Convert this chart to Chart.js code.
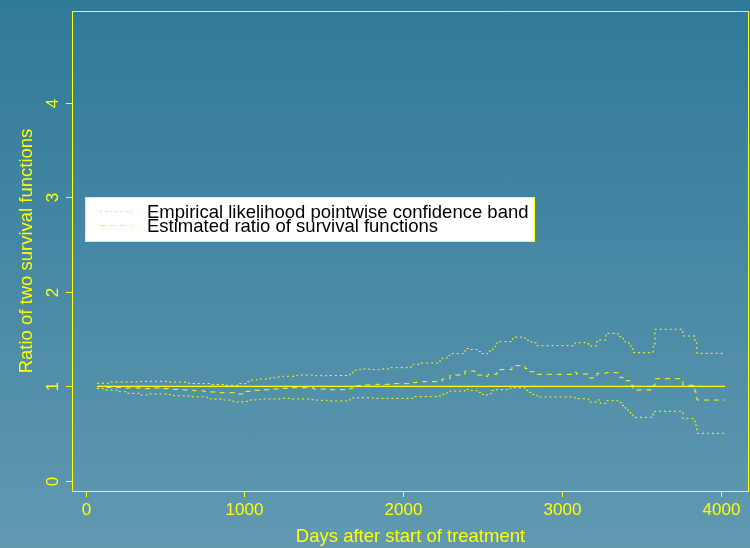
<!DOCTYPE html>
<html>
<head>
<meta charset="utf-8">
<script src="https://cdn.jsdelivr.net/npm/chart.js@4.4.1/dist/chart.umd.min.js"></script>
<style>
  html, body { margin: 0; padding: 0; }
  body {
    width: 750px; height: 548px; overflow: hidden;
    background: linear-gradient(to bottom, #2f7999 0%, #6199b1 100%);
  }
  canvas { display: block; }
</style>
</head>
<body>
<canvas id="c" width="750" height="548"></canvas>
<script>
// Tick positions
const xTicks = [0, 1000, 2000, 3000, 4000];
const yTicks = [0, 1, 2, 3, 4];

// Upper limit of the empirical likelihood pointwise band (step function)
const upperDays  = [72, 154, 324, 530, 650, 790, 870, 970, 1010, 1040, 1079, 1161, 1205, 1243, 1331, 1435, 1520, 1664, 1683, 1728, 1790, 1853, 1916, 2042, 2061, 2105, 2218, 2244, 2275, 2294, 2388, 2401, 2420, 2464, 2495, 2533, 2558, 2577, 2590, 2684, 2690, 2766, 2785, 2810, 2842, 3081, 3165, 3219, 3276, 3352, 3383, 3395, 3420, 3433, 3446, 3572, 3584, 3760, 3836, 3848, 4025];
const upperRatio = [1.033, 1.047, 1.054, 1.045, 1.03, 1.02, 1.012, 1.03, 1.05, 1.066, 1.078, 1.092, 1.10, 1.107, 1.12, 1.113, 1.115, 1.134, 1.17, 1.184, 1.177, 1.184, 1.198, 1.205, 1.234, 1.247, 1.268, 1.297, 1.325, 1.346, 1.38, 1.40, 1.39, 1.37, 1.346, 1.374, 1.395, 1.424, 1.473, 1.50, 1.52, 1.50, 1.473, 1.46, 1.43, 1.462, 1.427, 1.49, 1.561, 1.525, 1.50, 1.47, 1.435, 1.40, 1.356, 1.42, 1.604, 1.533, 1.46, 1.35, 1.35];

// Lower limit of the band
const lowerDays  = [72, 113, 198, 261, 343, 393, 513, 551, 658, 765, 784, 866, 929, 991, 1035, 1098, 1224, 1287, 1413, 1456, 1520, 1664, 1683, 1809, 2061, 2212, 2244, 2275, 2294, 2388, 2407, 2464, 2495, 2514, 2533, 2558, 2577, 2653, 2684, 2766, 2785, 2810, 2842, 3081, 3165, 3219, 3240, 3276, 3352, 3375, 3395, 3415, 3430, 3446, 3572, 3584, 3760, 3836, 3848, 4025];
const lowerRatio = [0.976, 0.962, 0.944, 0.927, 0.909, 0.92, 0.912, 0.90, 0.89, 0.877, 0.867, 0.856, 0.835, 0.842, 0.857, 0.867, 0.874, 0.867, 0.859, 0.853, 0.846, 0.867, 0.88, 0.874, 0.892, 0.90, 0.916, 0.937, 0.951, 0.972, 0.958, 0.937, 0.916, 0.909, 0.923, 0.958, 0.965, 0.98, 0.986, 0.958, 0.937, 0.916, 0.888, 0.87, 0.835, 0.856, 0.821, 0.849, 0.828, 0.80, 0.772, 0.743, 0.716, 0.673, 0.708, 0.737, 0.659, 0.589, 0.504, 0.504];

// Estimated ratio of the two survival functions
const estDays  = [72, 113, 240, 343, 406, 490, 551, 614, 677, 740, 784, 847, 950, 991, 1035, 1098, 1161, 1243, 1287, 1435, 1540, 1664, 1683, 1746, 1830, 1916, 2061, 2085, 2244, 2294, 2388, 2451, 2464, 2495, 2533, 2590, 2684, 2766, 2779, 2842, 3081, 3090, 3165, 3219, 3276, 3352, 3383, 3427, 3446, 3572, 3584, 3760, 3836, 3848, 4025];
const estRatio = [0.997, 0.99, 0.983, 0.976, 0.983, 0.976, 0.969, 0.962, 0.955, 0.948, 0.941, 0.933, 0.92, 0.948, 0.959, 0.965, 0.972, 0.98, 0.986, 0.972, 0.965, 0.98, 1.007, 1.015, 1.022, 1.029, 1.04, 1.05, 1.078, 1.12, 1.163, 1.14, 1.12, 1.107, 1.128, 1.177, 1.219, 1.19, 1.155, 1.128, 1.15, 1.131, 1.089, 1.138, 1.145, 1.096, 1.06, 1.012, 0.962, 1.012, 1.081, 1.012, 0.94, 0.856, 0.856];

// Reference line at ratio 1
const refDays  = [72, 4025];
const refRatio = [1, 1];

const legendLabels = [
  'Empirical likelihood pointwise confidence band',
  'Estimated ratio of survival functions'
];

const YELLOW = '#ffff00';
const FONT = '"Liberation Sans", Arial, Helvetica, sans-serif';

const pts = (xs, ys) => xs.map((x, i) => ({ x, y: ys[i] }));

const dotted = [2, 3];
const dashed = [5, 5];

const rPlot = {
  id: 'rPlot',
  afterDraw(chart) {
    const ctx = chart.ctx;
    const a = chart.chartArea;
    const xs = chart.scales.x, ys = chart.scales.y;
    ctx.save();
    ctx.strokeStyle = YELLOW;
    ctx.lineWidth = 1;
    ctx.setLineDash([]);
    // frame
    ctx.strokeRect(a.left + 0.5, a.top + 0.5, a.right - a.left - 1, a.bottom - a.top);
    ctx.fillStyle = YELLOW;
    ctx.font = '17px ' + FONT;
    // x ticks
    ctx.textAlign = 'center';
    ctx.textBaseline = 'middle';
    xTicks.forEach(t => {
      const px = Math.round(xs.getPixelForValue(t)) + 0.5;
      ctx.beginPath();
      ctx.moveTo(px, a.bottom);
      ctx.lineTo(px, a.bottom + 6);
      ctx.stroke();
      ctx.fillText(String(t), px, a.bottom + 19);
    });
    // y ticks (labels parallel to the axis)
    yTicks.forEach(t => {
      const py = Math.round(ys.getPixelForValue(t)) + 0.5;
      ctx.beginPath();
      ctx.moveTo(a.left - 6, py);
      ctx.lineTo(a.left, py);
      ctx.stroke();
      ctx.save();
      ctx.translate(a.left - 19, py);
      ctx.rotate(-Math.PI / 2);
      ctx.fillText(String(t), 0, 0);
      ctx.restore();
    });
    // axis titles
    ctx.font = '18.5px ' + FONT;
    ctx.fillText('Days after start of treatment', (a.left + a.right) / 2, a.bottom + 46);
    ctx.save();
    ctx.translate(27, (a.top + a.bottom) / 2);
    ctx.rotate(-Math.PI / 2);
    ctx.fillText('Ratio of two survival functions', 0, 0);
    ctx.restore();

    // legend box
    const lx = 85, ly = 197, lw = 450, lh = 45;
    ctx.fillStyle = '#ffffff';
    ctx.fillRect(lx, ly, lw, lh);
    ctx.strokeStyle = YELLOW;
    ctx.strokeRect(lx + 0.5, ly + 0.5, lw - 1, lh - 1);
    const rows = [ly + 14, ly + 28];
    const dashes = [dotted, dashed];
    rows.forEach((ry, i) => {
      ctx.setLineDash(dashes[i]);
      ctx.strokeStyle = YELLOW;
      ctx.beginPath();
      ctx.moveTo(lx + 15, ry + 0.5);
      ctx.lineTo(lx + 46, ry + 0.5);
      ctx.stroke();
      ctx.setLineDash([]);
      ctx.fillStyle = '#000000';
      ctx.font = '18.5px ' + FONT;
      ctx.textAlign = 'left';
      ctx.textBaseline = 'alphabetic';
      ctx.fillText(legendLabels[i], lx + 62, ry + 7);
    });
    ctx.restore();
  }
};

new Chart(document.getElementById('c'), {
  type: 'line',
  data: {
    datasets: [
      { label: 'upper', data: pts(upperDays, upperRatio), borderColor: YELLOW, borderWidth: 1, borderDash: dotted, stepped: 'before' },
      { label: 'lower', data: pts(lowerDays, lowerRatio), borderColor: YELLOW, borderWidth: 1, borderDash: dotted, stepped: 'before' },
      { label: 'estimate', data: pts(estDays, estRatio), borderColor: YELLOW, borderWidth: 1, borderDash: dashed, stepped: 'before' },
      { label: 'reference', data: pts(refDays, refRatio), borderColor: YELLOW, borderWidth: 1.3, stepped: false }
    ]
  },
  options: {
    responsive: false,
    animation: false,
    events: [],
    parsing: false,
    layout: { padding: { left: 72, right: 1, top: 11, bottom: 57 } },
    elements: { point: { radius: 0 }, line: { tension: 0, fill: false } },
    scales: {
      x: { type: 'linear', min: -85, max: 4176, display: false },
      y: { type: 'linear', min: -0.1057, max: 4.968, display: false }
    },
    plugins: { legend: { display: false }, tooltip: { enabled: false } }
  },
  plugins: [rPlot]
});
</script>
</body>
</html>
